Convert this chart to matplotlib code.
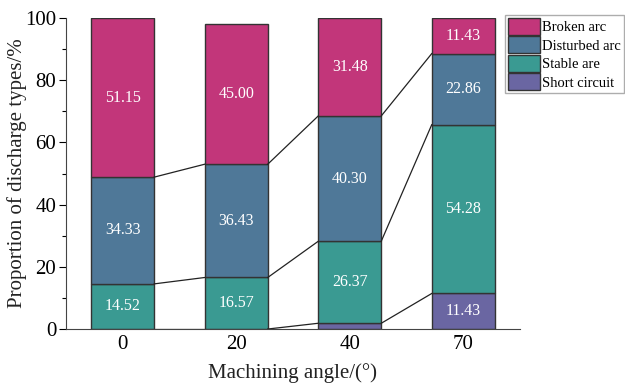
import numpy as np
import matplotlib.pyplot as plt
from matplotlib.ticker import MultipleLocator

plt.rcParams['font.family'] = ['Liberation Serif', 'DejaVu Serif']

angles = ['0', '20', '40', '70']
short_circuit = [0.0, 0.0, 1.85, 11.43]
stable_arc = [14.52, 16.57, 26.37, 54.28]
disturbed_arc = [34.33, 36.43, 40.30, 22.86]
broken_arc = [51.15, 45.00, 31.48, 11.43]

series = [
    ('Short circuit', short_circuit, '#6a66a2'),
    ('Stable are', stable_arc, '#3a9a92'),
    ('Disturbed arc', disturbed_arc, '#4f7898'),
    ('Broken arc', broken_arc, '#c2367a'),
]

x = np.arange(len(angles))
width = 0.555

fig = plt.figure(figsize=(6.25, 3.88), dpi=100)
ax = fig.add_axes([0.1056, 0.152, 0.7264, 0.8015])

bottom = np.zeros(len(angles))
handles = []
tops = []
for name, vals, color in series:
    vals = np.array(vals)
    bars = ax.bar(x, vals, width, bottom=bottom, color=color,
                  edgecolor='#333333', linewidth=1.0, label=name)
    handles.append(bars)
    for xi, b, v in zip(x, bottom, vals):
        if v > 5:
            ax.text(xi, b + v / 2, f'{v:.2f}', ha='center', va='center',
                    color='white', fontsize=11.5)
    bottom = bottom + vals
    tops.append(bottom.copy())

# connecting lines between the stacked segments of neighbouring bars
for top in tops[:-1]:
    for i in range(len(angles) - 1):
        ax.plot([x[i] + width / 2, x[i + 1] - width / 2], [top[i], top[i + 1]],
                color='#222222', linewidth=0.9)

ax.set_xlim(-0.5, 3.5)
ax.set_ylim(0, 100)
ax.set_xticks(x)
ax.set_xticklabels(angles)
ax.yaxis.set_major_locator(MultipleLocator(20))
ax.yaxis.set_minor_locator(MultipleLocator(10))
ax.tick_params(axis='y', which='major', length=5, labelsize=15, width=0.8, pad=2)
ax.tick_params(axis='y', which='minor', length=3, width=0.8)
ax.tick_params(axis='x', length=0, labelsize=15, pad=4)
ax.spines['top'].set_visible(False)
ax.spines['right'].set_visible(False)
ax.spines['left'].set_color('#444444')
ax.spines['bottom'].set_color('#444444')

ax.set_xlabel('Machining angle/(°)', fontsize=15, color='#222222', labelpad=7)
ax.set_ylabel('Proportion of discharge types/%', fontsize=15, color='#222222')
ax.yaxis.set_label_coords(-0.086, 0.5)

leg = fig.legend(handles[::-1], [s[0] for s in series][::-1],
                 loc='upper left', bbox_to_anchor=(0.808, 0.962),
                 fontsize=10.5, frameon=True, fancybox=False,
                 handlelength=2.2, handleheight=1.45, handletextpad=0.15,
                 labelspacing=0.08, borderpad=0.2, borderaxespad=0)
leg.get_frame().set_edgecolor('#999999')
leg.get_frame().set_linewidth(1.0)

fig.savefig('out.png', dpi=100)
